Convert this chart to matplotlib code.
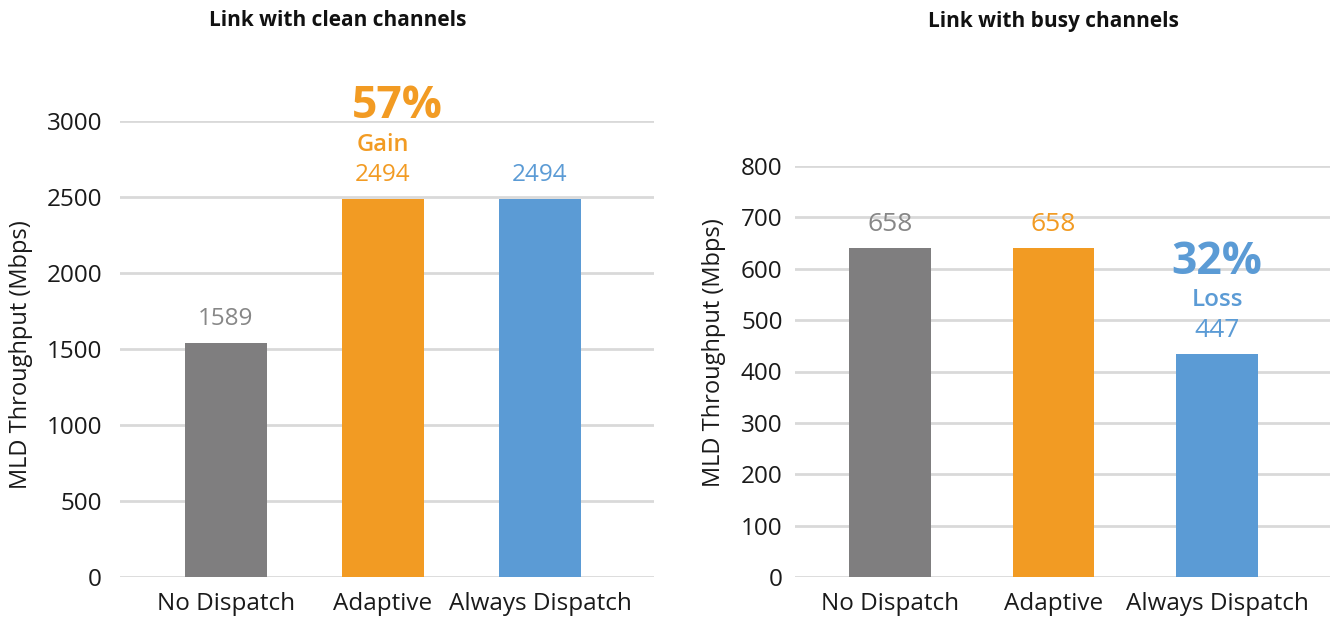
import matplotlib
import numpy as np

matplotlib.use("Agg")
import matplotlib.pyplot as plt  # noqa: E402

plt.rcParams["font.family"] = ["Open Sans", "DejaVu Sans"]

CATEGORIES = ["No Dispatch", "Adaptive", "Always Dispatch"]
COLORS = ["#7f7e7f", "#f29b23", "#5b9bd5"]
LABEL_COLORS = ["#878787", "#f29b23", "#5b9bd5"]

# bar heights as drawn, and the printed value labels
CLEAN_BARS = [1540, 2490, 2490]
CLEAN_LABELS = ["1589", "2494", "2494"]
BUSY_BARS = [640, 640, 434]
BUSY_LABELS = ["658", "658", "447"]

W, H = 1330, 621


def px_box(x0, x1, y_top, y_bot):
    """figure-pixel box (origin top-left) -> axes rect"""
    return [x0 / W, 1 - y_bot / H, (x1 - x0) / W, (y_bot - y_top) / H]


def draw_panel(ax, bars, labels, ymax, step, xlim, width, ypad, lab_size):
    x = np.arange(len(CATEGORIES))
    ax.set_xlim(*xlim)
    ax.set_ylim(0, ymax)
    ax.set_yticks(np.arange(0, ymax + 1, step))
    for y in np.arange(0, ymax + 1, step):
        ax.axhline(y, color="#d9d9d9", lw=2, zorder=1)
    ax.bar(x, bars, width=width, color=COLORS, zorder=3)
    for xi, b, lab, c in zip(x, bars, labels, LABEL_COLORS):
        ax.annotate(lab, (xi, b), xytext=(0, 24), textcoords="offset pixels",
                    ha="center", va="center", fontsize=lab_size, color=c)
    ax.set_xticks(x)
    ax.set_xticklabels(CATEGORIES)
    ax.tick_params(axis="both", length=0, labelsize=17.5, colors="#1a1a1a")
    ax.tick_params(axis="y", pad=ypad)
    ax.tick_params(axis="x", pad=11)
    for s in ax.spines.values():
        s.set_visible(False)
    ax.set_ylabel("MLD Throughput (Mbps)", fontsize=17, color="#1a1a1a")
    return x


fig = plt.figure(figsize=(W / 100, H / 100), dpi=100)

# ---- left: clean channels ---------------------------------------------------
ax1 = fig.add_axes(px_box(120, 654, 121, 577))
x1 = draw_panel(ax1, CLEAN_BARS, CLEAN_LABELS, 3000, 500, (-0.675, 2.726), 0.52, 13, 17.5)
ax1.yaxis.set_label_coords(-0.163, 0.487)
ax1.annotate("Gain", (x1[1], CLEAN_BARS[1]), xytext=(0, 54), textcoords="offset pixels",
             ha="center", va="center", fontsize=17, fontweight="semibold",
             color=COLORS[1], annotation_clip=False)
ax1.annotate("57%", (x1[1], CLEAN_BARS[1]), xytext=(-31, 92), textcoords="offset pixels",
             ha="left", va="center", fontsize=32, fontweight="bold",
             color=COLORS[1], annotation_clip=False)

# ---- right: busy channels ---------------------------------------------------
ax2 = fig.add_axes(px_box(795, 1330, 166, 577))
x2 = draw_panel(ax2, BUSY_BARS, BUSY_LABELS, 800, 100, (-0.581, 2.691), 0.50, 9, 19)
ax2.yaxis.set_label_coords(-0.129, 0.547)
ax2.annotate("Loss", (x2[2], BUSY_BARS[2]), xytext=(0, 54), textcoords="offset pixels",
             ha="center", va="center", fontsize=17.5, fontweight="semibold",
             color=COLORS[2], annotation_clip=False)
ax2.annotate("32%", (x2[2], BUSY_BARS[2]), xytext=(0, 92), textcoords="offset pixels",
             ha="center", va="center", fontsize=32, fontweight="bold",
             color=COLORS[2], annotation_clip=False)

fig.text(338 / W, 1 - 21 / H, "Link with clean channels", ha="center", va="center",
         fontsize=15, fontweight="bold", color="#111111")
fig.text(1053 / W, 1 - 21 / H, "Link with busy channels", ha="center", va="center",
         fontsize=15, fontweight="bold", color="#111111")

fig.savefig("out.png", dpi=100)
